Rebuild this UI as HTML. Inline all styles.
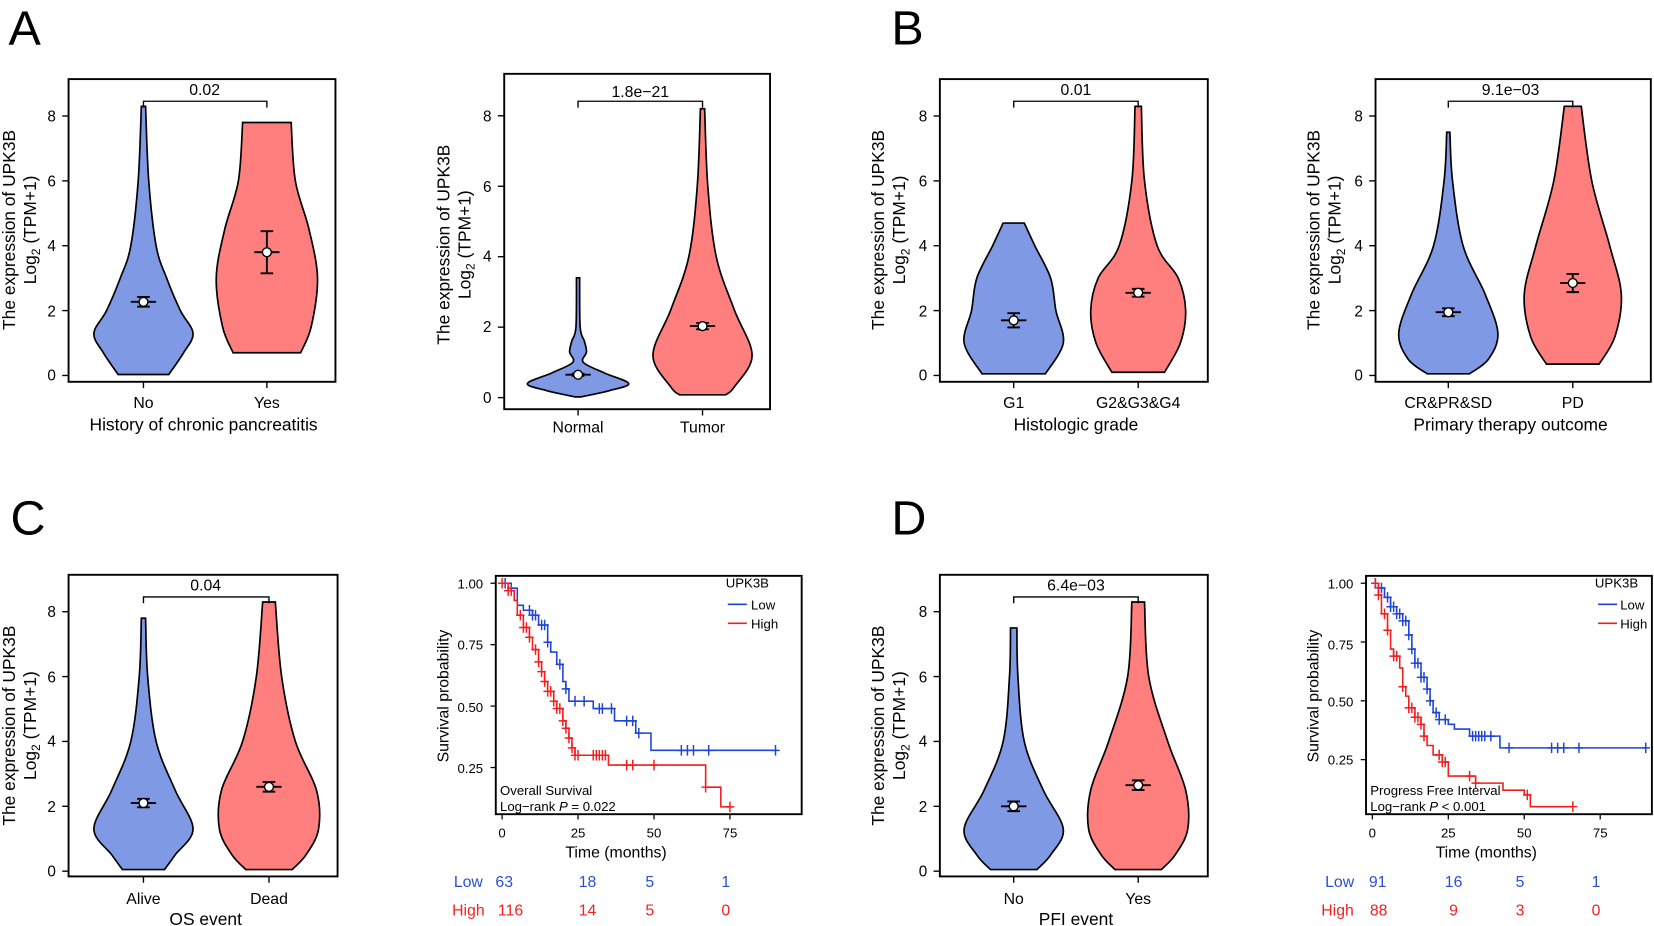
<!DOCTYPE html>
<html><head><meta charset="utf-8"><style>
html,body{margin:0;padding:0;background:#fff}
svg{display:block}
text{font-family:"Liberation Sans",Arial,sans-serif;fill:#000}
</style></head><body>
<svg id="s" width="1654" height="926" viewBox="0 0 1568 878" preserveAspectRatio="none" xmlns="http://www.w3.org/2000/svg">
<g font-size="46">
<text x="8" y="42">A</text><text x="845" y="42">B</text>
<text x="10" y="507">C</text><text x="845" y="507">D</text>
</g>
<g id="g"></g>
<g font-size="15">
<!-- A1 -->
<text x="194" y="90" text-anchor="middle">0.02</text>
<text x="136" y="387" text-anchor="middle">No</text><text x="253" y="387" text-anchor="middle">Yes</text>
<text x="193" y="408" text-anchor="middle" font-size="16.5">History of chronic pancreatitis</text>
<!-- A2 -->
<text x="607" y="92" text-anchor="middle">1.8e−21</text>
<text x="548" y="410" text-anchor="middle">Normal</text><text x="666" y="410" text-anchor="middle">Tumor</text>
<!-- B1 -->
<text x="1020" y="90" text-anchor="middle">0.01</text>
<text x="961" y="387" text-anchor="middle">G1</text><text x="1079" y="387" text-anchor="middle">G2&amp;G3&amp;G4</text>
<text x="1020" y="408" text-anchor="middle" font-size="16.5">Histologic grade</text>
<!-- B2 -->
<text x="1432" y="90" text-anchor="middle">9.1e−03</text>
<text x="1373" y="387" text-anchor="middle">CR&amp;PR&amp;SD</text><text x="1491" y="387" text-anchor="middle">PD</text>
<text x="1432" y="408" text-anchor="middle" font-size="16.5">Primary therapy outcome</text>
<!-- C1 -->
<text x="195" y="560" text-anchor="middle">0.04</text>
<text x="136" y="857" text-anchor="middle">Alive</text><text x="255" y="857" text-anchor="middle">Dead</text>
<text x="195" y="877" text-anchor="middle" font-size="16.5">OS event</text>
<!-- D1 -->
<text x="1020" y="560" text-anchor="middle">6.4e−03</text>
<text x="961" y="857" text-anchor="middle">No</text><text x="1079" y="857" text-anchor="middle">Yes</text>
<text x="1020" y="877" text-anchor="middle" font-size="16.5">PFI event</text>
</g>
<g font-size="16.5">
<g transform="translate(14,218) rotate(-90)"><text text-anchor="middle">The expression of UPK3B</text></g>
<g transform="translate(34,218) rotate(-90)"><text text-anchor="middle">Log<tspan font-size="11.5" dy="4">2</tspan><tspan dy="-4"> (TPM+1)</tspan></text></g>
<g transform="translate(426,232) rotate(-90)"><text text-anchor="middle">The expression of UPK3B</text></g>
<g transform="translate(446,232) rotate(-90)"><text text-anchor="middle">Log<tspan font-size="11.5" dy="4">2</tspan><tspan dy="-4"> (TPM+1)</tspan></text></g>
<g transform="translate(838,218) rotate(-90)"><text text-anchor="middle">The expression of UPK3B</text></g>
<g transform="translate(858,218) rotate(-90)"><text text-anchor="middle">Log<tspan font-size="11.5" dy="4">2</tspan><tspan dy="-4"> (TPM+1)</tspan></text></g>
<g transform="translate(1251,218) rotate(-90)"><text text-anchor="middle">The expression of UPK3B</text></g>
<g transform="translate(1271,218) rotate(-90)"><text text-anchor="middle">Log<tspan font-size="11.5" dy="4">2</tspan><tspan dy="-4"> (TPM+1)</tspan></text></g>
<g transform="translate(14,688) rotate(-90)"><text text-anchor="middle">The expression of UPK3B</text></g>
<g transform="translate(34,688) rotate(-90)"><text text-anchor="middle">Log<tspan font-size="11.5" dy="4">2</tspan><tspan dy="-4"> (TPM+1)</tspan></text></g>
<g transform="translate(838,688) rotate(-90)"><text text-anchor="middle">The expression of UPK3B</text></g>
<g transform="translate(858,688) rotate(-90)"><text text-anchor="middle">Log<tspan font-size="11.5" dy="4">2</tspan><tspan dy="-4"> (TPM+1)</tspan></text></g>
</g>
<g font-size="14.5" text-anchor="end">
<text x="53" y="115">8</text><text x="53" y="177">6</text><text x="53" y="238">4</text><text x="53" y="300">2</text><text x="53" y="361">0</text>
<text x="466" y="115">8</text><text x="466" y="182">6</text><text x="466" y="248">4</text><text x="466" y="315">2</text><text x="466" y="382">0</text>
<text x="879" y="115">8</text><text x="879" y="177">6</text><text x="879" y="238">4</text><text x="879" y="300">2</text><text x="879" y="361">0</text>
<text x="1292" y="115">8</text><text x="1292" y="177">6</text><text x="1292" y="238">4</text><text x="1292" y="300">2</text><text x="1292" y="361">0</text>
<text x="53" y="585">8</text><text x="53" y="647">6</text><text x="53" y="708">4</text><text x="53" y="770">2</text><text x="53" y="831">0</text>
<text x="879" y="585">8</text><text x="879" y="647">6</text><text x="879" y="708">4</text><text x="879" y="770">2</text><text x="879" y="831">0</text>
</g>
<g font-size="12.5">
<g text-anchor="end">
<text x="458" y="558">1.00</text><text x="458" y="616">0.75</text><text x="458" y="675">0.50</text><text x="458" y="733">0.25</text>
<text x="1283" y="558">1.00</text><text x="1283" y="616">0.75</text><text x="1283" y="670">0.50</text><text x="1283" y="725">0.25</text>
</g>
<g text-anchor="middle">
<text x="476" y="794">0</text><text x="548" y="794">25</text><text x="620" y="794">50</text><text x="692" y="794">75</text>
<text x="1301" y="794">0</text><text x="1373" y="794">25</text><text x="1445" y="794">50</text><text x="1517" y="794">75</text>
</g>
<text x="474" y="754">Overall Survival</text><text x="474" y="769">Log−rank <tspan font-style="italic">P</tspan> = 0.022</text>
<text x="1299" y="754">Progress Free Interval</text><text x="1299" y="769">Log−rank <tspan font-style="italic">P</tspan> &lt; 0.001</text>
<text x="688" y="557">UPK3B</text><text x="712" y="578">Low</text><text x="712" y="596">High</text>
<text x="1512" y="557">UPK3B</text><text x="1536" y="578">Low</text><text x="1536" y="596">High</text>
</g>
<g font-size="15">
<text x="584" y="813" text-anchor="middle">Time (months)</text>
<text x="1409" y="813" text-anchor="middle">Time (months)</text>
<g transform="translate(425,660) rotate(-90)"><text text-anchor="middle">Survival probability</text></g>
<g transform="translate(1250,660) rotate(-90)"><text text-anchor="middle">Survival probability</text></g>
</g>
<g font-size="15" text-anchor="middle">
<text x="444" y="841" style="fill:#2a4fd6">Low</text><text x="478" y="841" style="fill:#2a4fd6">63</text><text x="557" y="841" style="fill:#2a4fd6">18</text><text x="616" y="841" style="fill:#2a4fd6">5</text><text x="688" y="841" style="fill:#2a4fd6">1</text>
<text x="1270" y="841" style="fill:#2a4fd6">Low</text><text x="1306" y="841" style="fill:#2a4fd6">91</text><text x="1378" y="841" style="fill:#2a4fd6">16</text><text x="1441" y="841" style="fill:#2a4fd6">5</text><text x="1513" y="841" style="fill:#2a4fd6">1</text>
<text x="444" y="868" style="fill:#f52020">High</text><text x="484" y="868" style="fill:#f52020">116</text><text x="557" y="868" style="fill:#f52020">14</text><text x="616" y="868" style="fill:#f52020">5</text><text x="688" y="868" style="fill:#f52020">0</text>
<text x="1268" y="868" style="fill:#f52020">High</text><text x="1307" y="868" style="fill:#f52020">88</text><text x="1378" y="868" style="fill:#f52020">9</text><text x="1441" y="868" style="fill:#f52020">3</text><text x="1513" y="868" style="fill:#f52020">0</text>
</g>
</svg>
<script>
var G=document.getElementById('g'),ns='http://www.w3.org/2000/svg';
function el(t,a){var e=document.createElementNS(ns,t);for(var k in a)e.setAttribute(k,a[k]);G.appendChild(e);return e;}
function cr(pts){var d='';for(var i=0;i<pts.length-1;i++){var p0=pts[Math.max(i-1,0)],p1=pts[i],p2=pts[i+1],p3=pts[Math.min(i+2,pts.length-1)];
d+=' C'+(p1[0]+(p2[0]-p0[0])/6)+','+(p1[1]+(p2[1]-p0[1])/6)+' '+(p2[0]-(p3[0]-p1[0])/6)+','+(p2[1]-(p3[1]-p1[1])/6)+' '+p2[0]+','+p2[1];}return d;}
function violin(cx,y0,sc,prof,fill){var R=prof.map(function(p){return[cx+p[1],y0-p[0]*sc]});var L=prof.slice().reverse().map(function(p){return[cx-p[1],y0-p[0]*sc]});
var d='M'+(cx-prof[0][1])+','+R[0][1]+' L'+R[0][0]+','+R[0][1]+cr(R)+' L'+L[0][0]+','+L[0][1]+cr(L)+' Z';
el('path',{d:d,fill:fill,stroke:'#000','stroke-width':1.6});}
function eb(cx,y0,sc,m,e){var ym=y0-m*sc,y1=y0-(m+e)*sc,y2=y0-(m-e)*sc;
el('path',{d:'M'+cx+','+y1+'V'+y2+'M'+(cx-6)+','+y1+'H'+(cx+6)+'M'+(cx-6)+','+y2+'H'+(cx+6)+'M'+(cx-12)+','+ym+'H'+(cx+12),stroke:'#000','stroke-width':1.8,fill:'none'});
el('circle',{cx:cx,cy:ym,r:4.2,fill:'#fff',stroke:'#000','stroke-width':1.3});}
function vpanel(bx,by,bw,bh,y0,sc,c1,c2,p1,p2,e1,e2,bry){
el('rect',{x:bx,y:by,width:bw,height:bh,fill:'none',stroke:'#000','stroke-width':1.8});
for(var v=0;v<=8;v+=2)el('path',{d:'M'+(bx-6)+','+(y0-v*sc)+'H'+bx,stroke:'#000','stroke-width':1.3});
el('path',{d:'M'+c1+','+(by+bh)+'v6M'+c2+','+(by+bh)+'v6',stroke:'#000','stroke-width':1.3});
violin(c1,y0,sc,p1,'#8099e4');violin(c2,y0,sc,p2,'#ff7f7f');eb(c1,y0,sc,e1[0],e1[1]);eb(c2,y0,sc,e2[0],e2[1]);
el('path',{d:'M'+c1+','+(bry+6)+'V'+bry+'H'+c2+'V'+(bry+6),stroke:'#000','stroke-width':1.3,fill:'none'});}
vpanel(65,75,253,287,356,30.75,136,253,
 [[8.3,2],[6,5],[4,12],[3,22],[2,35],[1.3,47],[0.7,38],[0.03,24]],
 [[7.8,23],[6,27],[4.5,40],[3,48],[1.5,42],[0.7,32]],[2.27,0.15],[3.8,0.65],96);
vpanel(478,70,252,318,377,33.4,548,666,
 [[3.4,1.5],[2,2],[1.6,6],[1.3,8],[1.0,5],[0.7,25],[0.4,48],[0.2,30],[0.02,3]],
 [[8.2,2],[6,5],[4,13],[2.5,30],[1.2,47],[0.3,30],[0.08,22]],[0.65,0.03],[2.03,0.09],96);
vpanel(891,75,254,287,356,30.75,961,1079,
 [[4.7,10],[4,20],[3,35],[2,40],[1,47],[0.05,30]],
 [[8.3,3],[6,6],[4,18],[3,38],[2,45],[1,40],[0.1,25]],[1.7,0.22],[2.55,0.12],96);
vpanel(1304,75,261,287,356,30.75,1373,1491,
 [[7.5,1.5],[6,4],[4,14],[2.5,35],[1.3,47],[0.5,38],[0.05,20]],
 [[8.3,8],[6,18],[4,35],[2.5,46],[1.2,40],[0.35,25]],[1.95,0.12],[2.85,0.28],96);
vpanel(65,545,255,286,826,30.75,136,255,
 [[7.8,2],[6,4],[4,12],[2.5,30],[1.3,47],[0.5,30],[0.05,20]],
 [[8.3,6],[6,12],[4,25],[2.5,45],[1.3,47],[0.5,35],[0.05,22]],[2.1,0.13],[2.6,0.15],566);
vpanel(891,545,254,286,826,30.75,961,1079,
 [[7.5,3],[6,4],[4,10],[2.5,28],[1.3,47],[0.5,35],[0.05,22]],
 [[8.3,6],[6,10],[4,28],[2.5,45],[1.3,47],[0.5,35],[0.05,22]],[2.0,0.15],[2.65,0.15],566);
function km(bx,bw,x0,xs,y1,ys,lo,hi,clo,chi,lx){
el('rect',{x:bx,y:546,width:bw,height:226,fill:'none',stroke:'#000','stroke-width':1.8});
[1,.75,.5,.25].forEach(function(v){el('path',{d:'M'+(bx-5)+','+(y1+(1-v)*ys)+'H'+bx,stroke:'#000','stroke-width':1.2})});
[0,25,50,75].forEach(function(v){el('path',{d:'M'+(x0+v*xs)+',772v5',stroke:'#000','stroke-width':1.2})});
function draw(pts,cs,col){var X=function(t){return x0+t*xs},Y=function(s){return y1+(1-s)*ys};
var d='M'+X(pts[0][0])+','+Y(pts[0][1]);for(var i=1;i<pts.length;i++){d+='H'+X(pts[i][0])+'V'+Y(pts[i][1]);}
d+='H'+X(pts[pts.length-1][2]||pts[pts.length-1][0]);
el('path',{d:d,stroke:col,'stroke-width':1.5,fill:'none'});
function sv(t){var s=1;for(var i=0;i<pts.length;i++)if(pts[i][0]<=t)s=pts[i][1];return s;}
var m='';cs.forEach(function(t){var x=X(t),y=Y(sv(t));m+='M'+(x-4)+','+y+'H'+(x+4)+'M'+x+','+(y-5)+'V'+(y+5);});
el('path',{d:m,stroke:col,'stroke-width':1.4,fill:'none'});}
draw(lo[0],clo,'#1f45d6');draw(hi[0],chi,'#f51c1c');
el('path',{d:'M'+lx+',573h18',stroke:'#1f45d6','stroke-width':1.6});el('path',{d:'M'+lx+',591h18',stroke:'#f51c1c','stroke-width':1.6});}
km(470,290,476,2.88,553,233,
 [[[0,1],[3,.98],[5,.91],[7,.89],[10,.87],[12,.83],[15,.76],[16,.72],[18,.67],[20,.6],[21,.57],[22,.52],[30,.49],[37,.44],[44,.39],[49,.32,90]]],
 [[[0,1],[2,.97],[4,.93],[5,.87],[7,.82],[9,.78],[10,.73],[12,.68],[13,.64],[14,.6],[15,.56],[17,.52],[18,.49],[20,.44],[21,.41],[22,.37],[23,.33],[24,.30],[35,.26],[67,.17],[72,.09,75]]],
 [1,3,9,10,11,13,14,15,19,21,24,27,32,33,36,41,43,45,59,61,63,68,90],
 [0,2,3,6,7,8,9,11,12,13,14,15,16,17,18,19,20,21,22,23,24,25,30,31,32,33,34,41,43,50,67,75],690);
km(1295,271,1301,2.88,553,223,
 [[[0,1],[2,.98],[4,.94],[6,.9],[8,.87],[10,.84],[12,.78],[13,.72],[14,.66],[16,.6],[18,.55],[19,.5],[20,.45],[22,.42],[25,.4],[27,.38],[32,.35],[42,.3,90]]],
 [[[0,1],[2,.95],[3,.87],[5,.8],[6,.72],[7,.69],[9,.64],[10,.56],[11,.52],[12,.47],[14,.43],[16,.4],[17,.35],[18,.31],[20,.27],[23,.24],[25,.18],[34,.15],[43,.12],[50,.1],[52,.05,66]]],
 [1,2,3,5,6,7,8,9,10,11,12,13,14,15,16,17,18,19,21,22,24,33,34,35,36,37,39,45,59,61,63,68,90],
 [1,2,4,5,7,8,10,12,13,14,15,16,17,22,23,24,32,34,51,66],1515);
</script>
</body></html>
